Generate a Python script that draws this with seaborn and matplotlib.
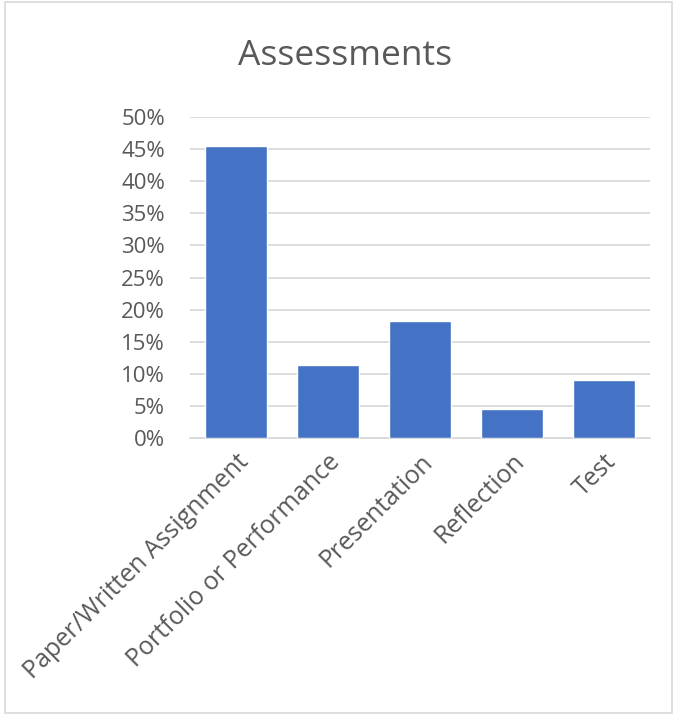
import matplotlib
matplotlib.use("Agg")
import matplotlib.pyplot as plt
import seaborn as sns
import pandas as pd
from matplotlib.patches import Rectangle
from matplotlib.ticker import PercentFormatter, MultipleLocator

categories = ["Paper/Written Assignment", "Portfolio or Performance",
              "Presentation", "Reflection", "Test"]
values = [0.4545, 0.1136, 0.1818, 0.0455, 0.0909]

sns.set_theme(style="white")
plt.rcParams['font.family'] = ['Open Sans', 'DejaVu Sans']

df = pd.DataFrame({"category": categories, "value": values})

fig = plt.figure(figsize=(6.79, 7.15), dpi=100)
ax = fig.add_axes([190/679, (715-438)/715, 460/679, 321/715])

sns.barplot(data=df, x="category", y="value", color="#4472C4",
            saturation=1, width=0.67, ax=ax, zorder=3)

ax.set_ylim(0, 0.5)
ax.set_xlim(-0.5, 4.5)
ax.yaxis.set_major_locator(MultipleLocator(0.05))
ax.yaxis.set_major_formatter(PercentFormatter(1.0, decimals=0))
ax.grid(axis="y", color="#d9d9d9", linewidth=1.3, zorder=0)
ax.set_axisbelow(True)
for s in ["top", "right", "left"]:
    ax.spines[s].set_visible(False)
ax.spines["bottom"].set_color("#d9d9d9")
ax.spines["bottom"].set_linewidth(1.3)
ax.set_xlabel("")
ax.set_ylabel("")
ax.tick_params(axis="both", length=0, colors="#595959")
ax.tick_params(axis="y", pad=18, labelsize=16)
ax.tick_params(axis="x", pad=8, labelsize=18)
plt.setp(ax.get_xticklabels(), rotation=45, ha="right", rotation_mode="anchor")

fig.text(345/679, 1 - 56/715, "Assessments", ha="center", va="center",
         fontsize=25.5, color="#595959")

fig.patches.append(Rectangle((5/679, 2/715), 667/679, 711/715,
                             transform=fig.transFigure, fill=False,
                             edgecolor="#d9d9d9", linewidth=1.2))

fig.savefig("out.png", dpi=100, facecolor="white")
